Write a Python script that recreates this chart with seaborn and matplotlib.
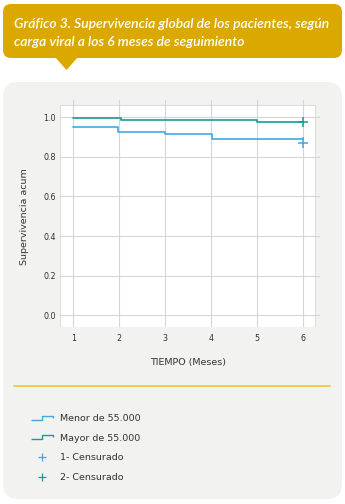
import numpy as np
import pandas as pd
import matplotlib
matplotlib.use("Agg")
import matplotlib.pyplot as plt
import seaborn as sns
from matplotlib.patches import FancyBboxPatch, Polygon, Rectangle
from matplotlib.lines import Line2D
from matplotlib.path import Path
from matplotlib.transforms import IdentityTransform

# ---- data ----
group_names = ["Menor de 55.000", "Mayor de 55.000"]
menor_time = [1.0, 1.98, 2.99, 4.02, 6.0]
menor_surv = [0.953, 0.927, 0.914, 0.889, 0.889]
mayor_time = [1.0, 2.04, 4.99, 6.0]
mayor_surv = [0.995, 0.985, 0.975, 0.975]
cens_time = [6.0, 6.0]
cens_surv = [0.872, 0.975]
cens_names = ["1- Censurado", "2- Censurado"]
x_ticks = [1, 2, 3, 4, 5, 6]
y_ticks = [0.0, 0.2, 0.4, 0.6, 0.8, 1.0]

title_lines = ["Gráfico 3. Supervivencia global de los pacientes, según",
               "carga viral a los 6 meses de seguimiento"]

blue = "#45A8E0"
teal = "#1C9A96"
gold = "#DBA800"
panel = "#F2F2F0"

sns.set_style("white")
plt.rcParams["font.family"] = ["DejaVu Sans"]

W, H = 345, 504
fig = plt.figure(figsize=(W / 100, H / 100), dpi=100)
fig.patch.set_facecolor("white")
T = IdentityTransform()

def px(x, y):
    return x, H - y

# title box
fig.patches.append(FancyBboxPatch(px(3, 58), 339, 54, boxstyle="round,pad=0,rounding_size=8",
                                  transform=T, facecolor=gold, edgecolor="none", zorder=-5))
fig.patches.append(Polygon([px(55, 57), px(78, 57), px(66.5, 70)], closed=True, transform=T,
                           facecolor=gold, edgecolor="none", zorder=-5))
# panel
fig.patches.append(FancyBboxPatch(px(3, 499), 339, 417, boxstyle="round,pad=0,rounding_size=15",
                                  transform=T, facecolor=panel, edgecolor="none", zorder=-5))
# separator
fig.lines.append(Line2D([14, 330], [H - 386, H - 386], transform=T, color="#F4BE2A", lw=1.1,
                        zorder=-4))

# title
tkw = dict(color="white", fontstyle="italic", fontweight="semibold",
           family=["Lato", "DejaVu Sans"], fontsize=10, va="baseline", ha="left")
t1 = fig.text(14 / W, 1 - 27.5 / H, title_lines[0], **tkw)
t2 = fig.text(14 / W, 1 - 45.5 / H, title_lines[1], **tkw)
fig.canvas.draw()
r = fig.canvas.get_renderer()
w = t1.get_window_extent(r).width
fs = 10 * 316 / w
t1.set_fontsize(fs)
t2.set_fontsize(fs)

# axes
ax_l, ax_r, ax_t, ax_b = 60, 320, 100, 327
ax = fig.add_axes([ax_l / W, 1 - ax_b / H, (ax_r - ax_l) / W, (ax_b - ax_t) / H])
ax.set_zorder(2)
ax.set_facecolor("none")
ax.set_xlim(0.711, 6.363)
ax.set_ylim(-0.059, 1.087)
ax.add_patch(Rectangle((0.711, -0.059), 6.254 - 0.711, 1.062 + 0.059, facecolor="white",
                       edgecolor="#DDDDDD", lw=0.8, zorder=0.1))
ax.set_axisbelow(True)
ax.grid(True, color="#D6D6D6", lw=0.8)
for s in ax.spines.values():
    s.set_visible(False)

df = pd.concat([
    pd.DataFrame({"t": menor_time, "s": menor_surv, "g": group_names[0]}),
    pd.DataFrame({"t": mayor_time, "s": mayor_surv, "g": group_names[1]}),
])
sns.lineplot(data=df, x="t", y="s", hue="g", palette=[blue, teal], estimator=None,
             drawstyle="steps-post", lw=1.2, legend=False, ax=ax, zorder=3)
cdf = pd.DataFrame({"t": cens_time, "s": cens_surv, "g": cens_names})
sns.scatterplot(data=cdf, x="t", y="s", hue="g", palette=[blue, teal], marker="+", s=55,
                linewidth=1.1, legend=False, ax=ax, zorder=4)

ax.set_xticks(x_ticks)
ax.set_yticks(y_ticks)
ax.set_yticklabels([f"{v:.1f}" for v in y_ticks])
ax.tick_params(axis="both", length=0, labelsize=5.8, colors="#333333")
ax.tick_params(axis="y", pad=3)
ax.tick_params(axis="x", pad=5)
ax.set_xlabel("")
ax.set_ylabel("")
fig.text(25 / W, 1 - 217 / H, "Supervivencia acum", rotation=90, ha="center", va="center",
         fontsize=6.8, color="#333333")
fig.text(188 / W, 1 - 363 / H, "TIEMPO (Meses)", ha="center", va="center",
         fontsize=6.8, color="#333333")

# legend
step = Path([(-1, -0.16), (0, -0.16), (0, 0.16), (1, 0.16), (1, 0.0)],
            [Path.MOVETO, Path.LINETO, Path.LINETO, Path.LINETO, Path.LINETO])
handles = [
    Line2D([], [], linestyle="none", marker=step, markersize=16, markerfacecolor="none",
           markeredgecolor=blue, markeredgewidth=1.0),
    Line2D([], [], linestyle="none", marker=step, markersize=16, markerfacecolor="none",
           markeredgecolor=teal, markeredgewidth=1.0),
    Line2D([], [], linestyle="none", marker="+", markersize=6, markeredgecolor=blue,
           markeredgewidth=0.9),
    Line2D([], [], linestyle="none", marker="+", markersize=6, markeredgecolor=teal,
           markeredgewidth=0.9),
]
labels = group_names + cens_names
leg = fig.legend(handles, labels, loc="upper left", bbox_to_anchor=(33 / W, 1 - 414 / H),
                 frameon=False, fontsize=6.8, labelspacing=1.13, handlelength=2.0,
                 handletextpad=0.9, borderpad=0, borderaxespad=0)
for tx in leg.get_texts():
    tx.set_color("#333333")

fig.savefig("out.png", dpi=100, facecolor="white")
